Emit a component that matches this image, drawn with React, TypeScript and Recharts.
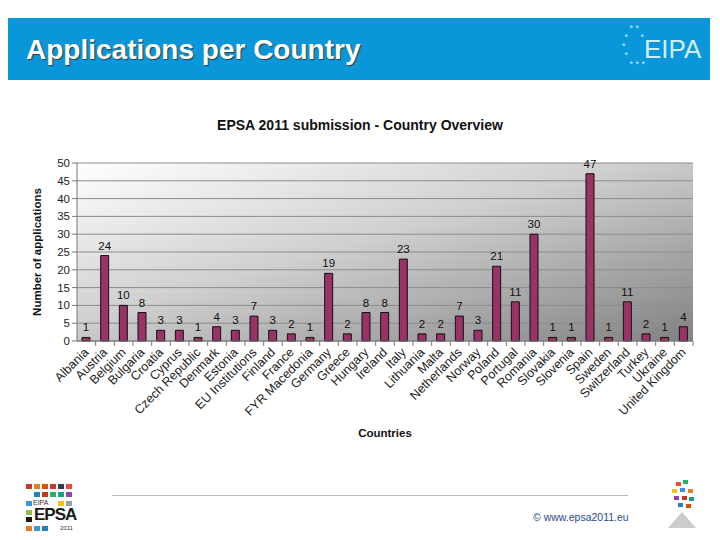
import React from 'react';
import { BarChart, Bar, XAxis, YAxis, CartesianGrid, LabelList } from 'recharts';

const countries = [
  'Albania', 'Austria', 'Belgium', 'Bulgaria', 'Croatia', 'Cyprus', 'Czech Republic', 'Denmark',
  'Estonia', 'EU Institutions', 'Finland', 'France', 'FYR Macedonia', 'Germany', 'Greece', 'Hungary',
  'Ireland', 'Italy', 'Lithuania', 'Malta', 'Netherlands', 'Norway', 'Poland', 'Portugal', 'Romania',
  'Slovakia', 'Slovenia', 'Spain', 'Sweden', 'Switzerland', 'Turkey', 'Ukraine', 'United Kingdom',
];

const applications = [
  1, 24, 10, 8, 3, 3, 1, 4, 3, 7, 3, 2, 1, 19, 2, 8, 8, 23, 2, 2, 7, 3, 21, 11, 30, 1, 1, 47, 1, 11, 2, 1, 4,
];

const yTicks = [0, 5, 10, 15, 20, 25, 30, 35, 40, 45, 50];

const FONT = '"Liberation Sans", Arial, sans-serif';
const BAR_COLOR = '#993366';

const data = countries.map((name, i) => ({ name, value: applications[i] }));

const CountryTick = (props: any) => {
  const { x, y, payload } = props;
  const off = payload && payload.offset ? payload.offset : 9;
  const ay = y - 2;
  const tx = x + 3;
  const ty = ay + 12;
  return (
    <g>
      <line x1={x + off} y1={ay} x2={x + off} y2={ay + 5} stroke="#777" />
      <text
        x={tx}
        y={ty}
        textAnchor="end"
        fontSize={12.5}
        fill="#222"
        fontFamily={FONT}
        transform={`rotate(-45, ${tx}, ${ty})`}
      >
        {payload.value}
      </text>
    </g>
  );
};

const squares = [
  { x: 26, y: 484, c: '#c0392b' }, { x: 34, y: 484, c: '#e67e22' }, { x: 42, y: 484, c: '#d35400' },
  { x: 50, y: 484, c: '#c0392b' }, { x: 58, y: 484, c: '#2c3e50' }, { x: 66, y: 484, c: '#e74c3c' },
  { x: 34, y: 492, c: '#2980b9' }, { x: 42, y: 492, c: '#c0392b' }, { x: 50, y: 492, c: '#27ae60' },
  { x: 58, y: 492, c: '#16a085' }, { x: 66, y: 492, c: '#8e44ad' },
  { x: 26, y: 501, c: '#3498db' }, { x: 58, y: 501, c: '#f1c40f' }, { x: 66, y: 501, c: '#95a5a6' },
  { x: 26, y: 510, c: '#8bc34a' }, { x: 26, y: 517, c: '#1a1a1a' },
  { x: 26, y: 526, c: '#e67e22' }, { x: 34, y: 526, c: '#3498db' }, { x: 42, y: 526, c: '#2980b9' },
];

export default function App() {
  return (
    <div style={{ position: 'absolute', left: 0, top: 0, width: 720, height: 540, background: '#fff', fontFamily: FONT, overflow: 'hidden' }}>
      <svg width={0} height={0} style={{ position: 'absolute' }}>
        <defs>
          <linearGradient id="plotBg" x1="0" y1="0" x2="1" y2="1">
            <stop offset="0%" stopColor="#ffffff" />
            <stop offset="45%" stopColor="#cfcfcf" />
            <stop offset="100%" stopColor="#828282" />
          </linearGradient>
        </defs>
      </svg>

      <div style={{ position: 'absolute', left: 8, top: 18, width: 702, height: 62, background: '#0a97d9' }} />
      <div style={{ position: 'absolute', left: 26, top: 34, color: '#fff', fontSize: 28, lineHeight: '32px', fontWeight: 'bold', textShadow: '1px 1px 1px #3a3a3a', whiteSpace: 'nowrap' }}>
        Applications per Country
      </div>
      <div style={{ position: 'absolute', left: 644, top: 34, color: '#cfeeff', fontSize: 26, lineHeight: '30px', whiteSpace: 'nowrap' }}>
        EIPA
      </div>
      <div style={{ position: 'absolute', left: 622, top: 24, color: '#cfeeff', fontSize: 9, lineHeight: '9px', whiteSpace: 'pre' }}>
        {'   * * \n *     *\n*\n *\n   * * *'}
      </div>

      <div style={{ position: 'absolute', left: 0, width: 720, top: 117, textAlign: 'center', fontSize: 14, fontWeight: 'bold', color: '#111' }}>
        EPSA 2011 submission - Country Overview
      </div>

      <div style={{ position: 'absolute', left: 0, top: 0 }}>
        <BarChart
          width={720}
          height={540}
          data={data}
          margin={{ top: 163, right: 27, left: 0, bottom: 99 }}
          barCategoryGap={0}
        >
          <CartesianGrid vertical={false} stroke="#8c8c8c" fill="url(#plotBg)" fillOpacity={1} />
          <XAxis
            dataKey="name"
            interval={0}
            height={100}
            tickLine={false}
            tickSize={0}
            axisLine={{ stroke: '#777' }}
            tick={<CountryTick />}
            label={{ value: 'Countries', position: 'insideBottom', offset: 4, fontSize: 11.5, fontWeight: 'bold', fill: '#111', fontFamily: FONT }}
          />
          <YAxis
            width={77}
            domain={[0, 50]}
            ticks={yTicks}
            interval={0}
            tickSize={5}
            tickLine={{ stroke: '#777' }}
            axisLine={{ stroke: '#777' }}
            tick={{ fontSize: 11.5, fill: '#222', fontFamily: FONT }}
            label={{ value: 'Number of applications', angle: -90, position: 'center', dx: -2, fontSize: 11.5, fontWeight: 'bold', fill: '#111', fontFamily: FONT }}
          />
          <YAxis yAxisId="right" orientation="right" width={0} tick={false} tickLine={false} axisLine={{ stroke: '#999' }} />
          <Bar dataKey="value" fill={BAR_COLOR} stroke="#111" strokeWidth={1} barSize={8} isAnimationActive={false}>
            <LabelList dataKey="value" position="top" offset={6} fontSize={11.5} fill="#111" fontFamily={FONT} />
          </Bar>
        </BarChart>
      </div>

      <div style={{ position: 'absolute', left: 112, top: 495, width: 516, height: 1, background: '#bbb' }} />
      <div style={{ position: 'absolute', left: 533, top: 511, fontSize: 10.5, color: '#2b4a8a', whiteSpace: 'nowrap' }}>
        © www.epsa2011.eu
      </div>

      {squares.map((s, i) => (
        <div key={i} style={{ position: 'absolute', left: s.x, top: s.y, width: 6, height: 5, background: s.c }} />
      ))}
      <div style={{ position: 'absolute', left: 33, top: 499, fontSize: 7, lineHeight: '8px', color: '#333' }}>EIPA</div>
      <div style={{ position: 'absolute', left: 34, top: 507, fontSize: 17, lineHeight: '16px', fontWeight: 'bold', color: '#1a1a1a', letterSpacing: -1 }}>EPSA</div>
      <div style={{ position: 'absolute', left: 60, top: 525, fontSize: 6, lineHeight: '7px', color: '#333' }}>2011</div>

      {[
        { x: 676, y: 482, c: '#e74c3c' }, { x: 683, y: 480, c: '#27ae60' }, { x: 672, y: 489, c: '#f1c40f' },
        { x: 680, y: 488, c: '#3498db' }, { x: 688, y: 489, c: '#e67e22' }, { x: 674, y: 496, c: '#8e44ad' },
        { x: 682, y: 496, c: '#c0392b' }, { x: 689, y: 497, c: '#16a085' }, { x: 678, y: 503, c: '#2980b9' },
        { x: 686, y: 504, c: '#d35400' },
      ].map((s, i) => (
        <div key={`r${i}`} style={{ position: 'absolute', left: s.x, top: s.y, width: 5, height: 4, background: s.c }} />
      ))}
      <div style={{ position: 'absolute', left: 668, top: 512, width: 0, height: 0, borderLeft: '14px solid transparent', borderRight: '14px solid transparent', borderBottom: '16px solid #ccc' }} />
    </div>
  );
}
